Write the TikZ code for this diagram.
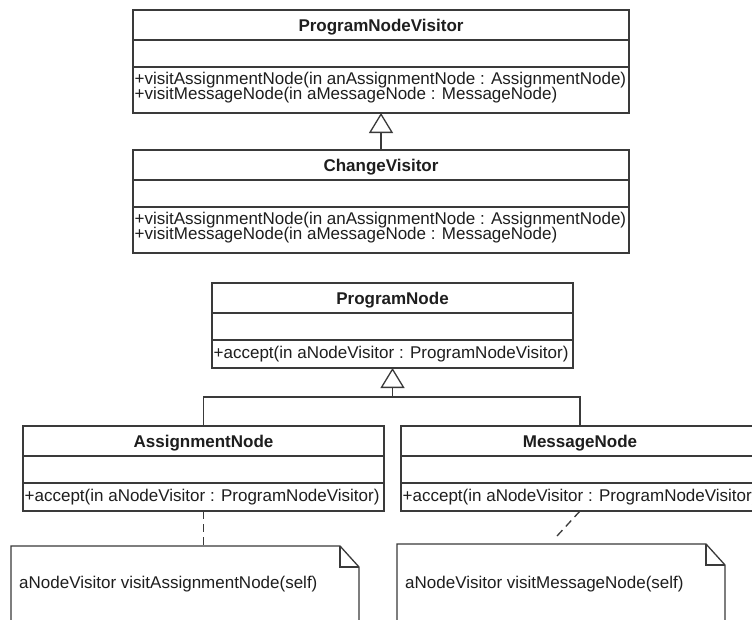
\documentclass[tikz,border=0pt]{standalone}
\usepackage{fontspec}
\setmainfont{Liberation Sans}
\usetikzlibrary{calc,arrows.meta}
\definecolor{umlline}{HTML}{3A3A3A}
\definecolor{umltext}{HTML}{1E1E1E}
\tikzset{
  classbox/.style={draw=umlline, line width=1.3pt, fill=white, rectangle, inner sep=0pt, outer sep=0pt},
  divider/.style={draw=umlline, line width=1.3pt},
  classname/.style={font=\fontsize{17}{17}\selectfont\bfseries, text=umltext, inner sep=0pt, anchor=base},
  member/.style={font=\fontsize{17}{17}\selectfont, text=umltext, inner sep=0pt, anchor=base west},
  generalization/.style={draw=umlline, line width=1.3pt, -{Triangle[open, length=20pt, width=24pt]}},
  treeline/.style={draw=umlline, line width=1.3pt},
  anchorline/.style={draw=umlline, line width=1.3pt, dash pattern=on 8pt off 5pt},
  notearea/.style={rectangle, inner sep=0pt, outer sep=0pt},
  noteline/.style={draw=umlline, line width=1.3pt, line join=miter, fill=white},
}
\begin{document}
\begin{tikzpicture}[x=1pt, y=-1pt]
  \useasboundingbox (0,0) rectangle (752,619);
  \fill[white] (0,0) rectangle (752,619);
  \clip (0,0) rectangle (752,619);

  % visitor hierarchy
  \node[classbox, minimum width=496pt, minimum height=103pt] (pnv) at (381,61.5) {};
  \node[classbox, minimum width=496pt, minimum height=103pt] (cv) at (381,201.5) {};
  \foreach \c in {pnv,cv} {
    \draw[divider] ($(\c.north west)+(0,30)$) -- ($(\c.north east)+(0,30)$);
    \draw[divider] ($(\c.north west)+(0,57)$) -- ($(\c.north east)+(0,57)$);
  }
  \node[classname] (pnvName) at ($(pnv.north)+(0,21)$) {ProgramNodeVisitor};
  \node[member] (pnvOpA) at ($(pnv.north west)+(1.5,74)$) {+visitAssignmentNode(in anAssignmentNode : AssignmentNode)};
  \node[member] (pnvOpB) at ($(pnv.north west)+(1.5,89)$) {+visitMessageNode(in aMessageNode : MessageNode)};
  \node[classname] (cvName) at ($(cv.north)+(0,21)$) {ChangeVisitor};
  \node[member] (cvOpA) at ($(cv.north west)+(1.5,74)$) {+visitAssignmentNode(in anAssignmentNode : AssignmentNode)};
  \node[member] (cvOpB) at ($(cv.north west)+(1.5,89)$) {+visitMessageNode(in aMessageNode : MessageNode)};
  \draw[generalization] (cv.north) -- (pnv.south);

  % node hierarchy
  \node[classbox, minimum width=361pt, minimum height=85pt] (pn) at (392.5,325.5) {};
  \node[classbox, minimum width=361pt, minimum height=85pt] (an) at (203.5,468.5) {};
  \node[classbox, minimum width=358pt, minimum height=85pt] (mn) at (580,468.5) {};
  \foreach \c in {pn,an,mn} {
    \draw[divider] ($(\c.north west)+(0,30)$) -- ($(\c.north east)+(0,30)$);
    \draw[divider] ($(\c.north west)+(0,57)$) -- ($(\c.north east)+(0,57)$);
  }
  \node[classname] (pnName) at ($(pn.north)+(0,21)$) {ProgramNode};
  \node[member] (pnOp) at ($(pn.north west)+(1.5,75.5)$) {+accept(in aNodeVisitor : ProgramNodeVisitor)};
  \node[classname] (anName) at ($(an.north)+(0,21)$) {AssignmentNode};
  \node[member] (anOp) at ($(an.north west)+(1.5,75.5)$) {+accept(in aNodeVisitor : ProgramNodeVisitor)};
  \node[classname] (mnName) at ($(mn.north)+(0,21)$) {MessageNode};
  \node[member] (mnOp) at ($(mn.north west)+(1.5,75.5)$) {+accept(in aNodeVisitor : ProgramNodeVisitor)};

  \coordinate (bus) at ($(pn.south)+(0,29)$);
  \draw[treeline] (an.north) |- (bus) -| (mn.north);
  \draw[generalization] (bus) -- (pn.south);

  % notes with folded corner
  \node[notearea, minimum width=348pt, minimum height=104pt] (noteA) at (185,598) {};
  \node[notearea, minimum width=328pt, minimum height=106pt] (noteM) at (561,597) {};
  \foreach \n in {noteA,noteM} {
    \draw[noteline] (\n.south west) -- (\n.north west) -- ($(\n.north east)+(-19,0)$)
      -- ($(\n.north east)+(0,21)$) -- (\n.south east);
    \draw[noteline, fill=none] ($(\n.north east)+(-19,0)$) -- ($(\n.north east)+(-19,21)$)
      -- ($(\n.north east)+(0,21)$);
  }
  \node[member] (noteAText) at ($(noteA.north west)+(8,42)$) {aNodeVisitor visitAssignmentNode(self)};
  \node[member] (noteMText) at ($(noteM.north west)+(8,44)$) {aNodeVisitor visitMessageNode(self)};

  \draw[anchorline] (an.south) -- (an.south |- noteA.north);
  \coordinate (mnLinkEnd) at (557,536);
  \draw[anchorline] (mn.south) -- (mnLinkEnd);
\end{tikzpicture}
\end{document}
